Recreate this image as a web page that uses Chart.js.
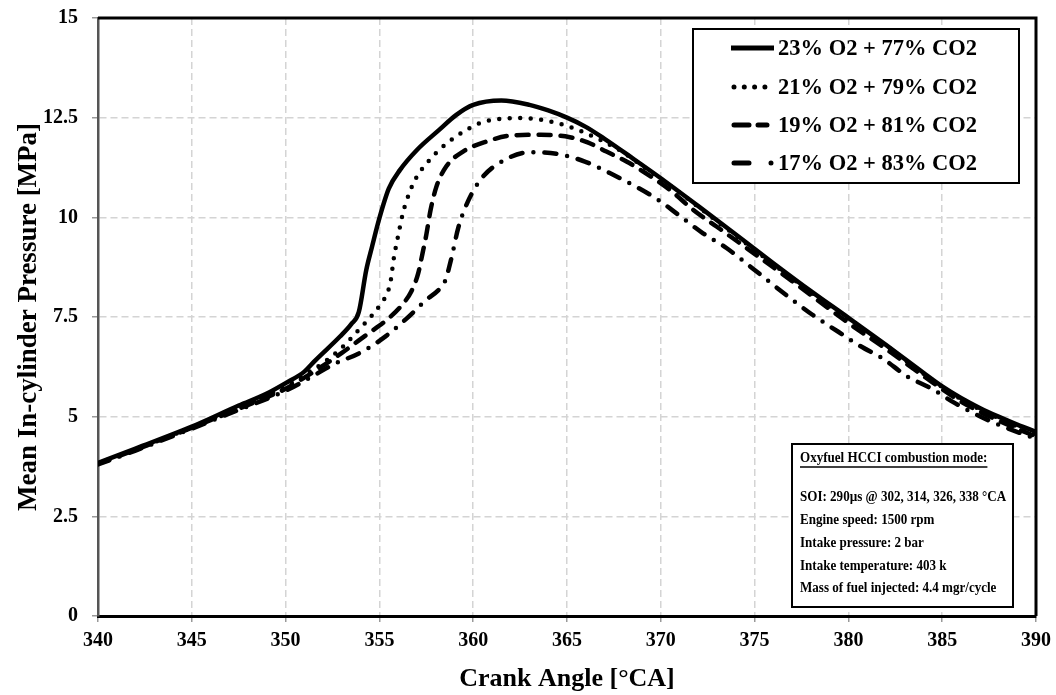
<!DOCTYPE html>
<html>
<head>
<meta charset="utf-8">
<script src="https://cdn.jsdelivr.net/npm/chart.js@4.4.1/dist/chart.umd.min.js"></script>
<style>
  html, body { margin: 0; padding: 0; background: #fff; }
  #wrap { width: 1056px; height: 695px; position: relative; }
</style>
</head>
<body>
<div id="wrap"><canvas id="chart" width="1056" height="695"></canvas></div>
<script>
// crank angle [°CA] and mean in-cylinder pressure [MPa]
const angle23 = [340, 342, 345, 347.5, 349, 350, 351, 351.6, 352.9, 353.5, 353.9, 354.3, 354.6, 355.0, 355.5, 356.1, 357.0, 358.2, 359.1, 360.0, 361.5, 363, 364, 365, 366, 367, 368.5, 370, 372, 374, 376, 378, 380, 382, 384, 385, 386, 387, 388, 389, 390];
const pres23  = [3.84, 4.2, 4.75, 5.28, 5.58, 5.84, 6.13, 6.42, 7.01, 7.32, 7.62, 8.68, 9.25, 9.98, 10.72, 11.19, 11.69, 12.2, 12.57, 12.82, 12.93, 12.82, 12.68, 12.5, 12.27, 11.97, 11.48, 10.98, 10.28, 9.57, 8.85, 8.15, 7.48, 6.8, 6.1, 5.76, 5.47, 5.22, 5.0, 4.8, 4.62];

const angle21 = [340, 342, 345, 347.5, 350, 351, 352.1, 353.06, 353.9, 354.75, 355.1, 355.42, 355.6, 355.76, 355.99, 356.25, 356.45, 356.9, 357.6, 358.4, 359.45, 360.5, 361.8, 362.6, 363.6, 364.8, 366, 367.6, 369.2, 371, 373, 375, 377, 380, 382, 384, 386, 388, 390];
const pres21  = [3.83, 4.18, 4.73, 5.24, 5.76, 6.05, 6.38, 6.76, 7.18, 7.62, 7.85, 8.1, 8.4, 8.95, 9.52, 10.1, 10.42, 10.94, 11.4, 11.78, 12.14, 12.39, 12.48, 12.49, 12.45, 12.32, 12.11, 11.74, 11.23, 10.62, 9.9, 9.18, 8.47, 7.44, 6.78, 6.08, 5.44, 4.96, 4.55];

const angle19 = [340, 342, 345, 347.5, 350, 351, 352, 353, 354.3, 355.4, 356.2, 356.7, 357.06, 357.3, 357.5, 357.73, 358.04, 358.57, 359.46, 360.7, 362, 363.6, 365.15, 366.1, 367.1, 368.17, 369.06, 370.48, 371.72, 372.97, 374.57, 377, 380, 382, 384, 386, 388, 390];
const pres19  = [3.82, 4.17, 4.72, 5.2, 5.7, 5.98, 6.28, 6.6, 7.05, 7.43, 7.8, 8.14, 8.58, 9.1, 9.56, 10.19, 10.77, 11.28, 11.65, 11.9, 12.05, 12.07, 12.01, 11.88, 11.65, 11.4, 11.15, 10.69, 10.19, 9.77, 9.23, 8.4, 7.35, 6.7, 6.02, 5.38, 4.9, 4.5];

const angle17 = [340, 342, 345, 347.5, 350, 351.5, 352.5, 354, 355.2, 356.4, 357.5, 358.2, 358.5, 358.85, 359.2, 359.72, 360.45, 361.6, 363, 364.5, 365.95, 367.28, 368.6, 369.86, 371, 372.25, 373.5, 375, 376.9, 378.1, 379.46, 380.6, 381.86, 383.1, 384.44, 385.68, 387.5, 390];
const pres17  = [3.8, 4.15, 4.7, 5.17, 5.65, 6.03, 6.3, 6.61, 6.97, 7.44, 7.93, 8.2, 8.4, 9.0, 9.73, 10.4, 10.98, 11.42, 11.63, 11.59, 11.4, 11.11, 10.79, 10.44, 10.04, 9.6, 9.23, 8.68, 7.97, 7.55, 7.13, 6.78, 6.45, 6.02, 5.7, 5.34, 4.9, 4.44];

const seriesNames = ["23% O2 + 77% CO2", "21% O2 + 79% CO2", "19% O2 + 81% CO2", "17% O2 + 83% CO2"];
const dashes = [[], [0, 10.5], [12, 10], [12, 11, 0, 11]];

const xTicks = [340, 345, 350, 355, 360, 365, 370, 375, 380, 385, 390];
const yTicks = [0, 2.5, 5, 7.5, 10, 12.5, 15];

const infoTitle = "Oxyfuel HCCI combustion mode:";
const infoLines = [
  "SOI: 290\u00b5s @ 302, 314, 326, 338 \u00b0CA",
  "Engine speed: 1500 rpm",
  "Intake pressure: 2 bar",
  "Intake temperature: 403 k",
  "Mass of fuel injected: 4.4 mgr/cycle"
];

const FONT = "'Liberation Serif', 'Times New Roman', serif";

function pts(xs, ys) { return xs.map((x, i) => ({ x, y: ys[i] })); }

const allData = [pts(angle23, pres23), pts(angle21, pres21), pts(angle19, pres19), pts(angle17, pres17)];

const datasets = allData.map((d, i) => ({
  label: seriesNames[i],
  data: d,
  borderColor: "#000",
  borderWidth: 4.5,
  borderDash: dashes[i],
  borderCapStyle: i === 0 ? "butt" : "round",
  borderJoinStyle: "round",
  pointRadius: 0,
  fill: false,
  cubicInterpolationMode: "monotone"
}));

// frame (top/right), legend box and info box
const boxesPlugin = {
  id: "boxes",
  afterDraw(chart) {
    const { ctx, chartArea: a } = chart;
    ctx.save();
    ctx.strokeStyle = "#000";
    ctx.lineWidth = 3;
    ctx.beginPath();
    ctx.moveTo(a.left, a.top);
    ctx.lineTo(a.right, a.top);
    ctx.lineTo(a.right, a.bottom);
    ctx.stroke();

    // legend
    ctx.fillStyle = "#fff";
    ctx.fillRect(693, 29, 326, 154);
    ctx.lineWidth = 2;
    ctx.strokeRect(693, 29, 326, 154);
    const rowY = [48, 87, 125, 163];
    const legDash = [[], [0, 10.3], [15, 9], [15, 22, 0, 100]];
    const legEnd = [774, 774, 767, 775];
    ctx.font = "bold 22.5px " + FONT;
    ctx.textBaseline = "middle";
    ctx.textAlign = "left";
    seriesNames.forEach((name, i) => {
      const y = rowY[i];
      ctx.save();
      ctx.lineWidth = 5;
      ctx.lineCap = i === 0 ? "butt" : "round";
      ctx.setLineDash(legDash[i]);
      ctx.beginPath();
      ctx.moveTo(i === 0 ? 731 : 734, y);
      ctx.lineTo(legEnd[i], y);
      ctx.stroke();
      ctx.restore();
      ctx.fillStyle = "#000";
      ctx.fillText(name, 778, y + 1);
    });

    // info box
    ctx.fillStyle = "#fff";
    ctx.fillRect(792, 444, 221, 163);
    ctx.lineWidth = 2;
    ctx.strokeStyle = "#000";
    ctx.strokeRect(792, 444, 221, 163);
    ctx.fillStyle = "#000";
    ctx.font = "bold 14.5px " + FONT;
    ctx.save();
    ctx.translate(800, 0);
    ctx.scale(0.9, 1);
    ctx.fillText(infoTitle, 0, 458);
    const w = ctx.measureText(infoTitle).width;
    ctx.lineWidth = 1.3;
    ctx.beginPath();
    ctx.moveTo(0, 467);
    ctx.lineTo(w, 467);
    ctx.stroke();
    const lineY = [497, 520, 543, 566, 588];
    infoLines.forEach((t, i) => ctx.fillText(t, 0, lineY[i]));
    ctx.restore();
    ctx.restore();
  }
};

new Chart(document.getElementById("chart"), {
  type: "line",
  data: { datasets },
  options: {
    responsive: false,
    animation: false,
    devicePixelRatio: 1,
    layout: { padding: { top: 18, right: 20, left: 0, bottom: 0 } },
    plugins: { legend: { display: false }, tooltip: { enabled: false } },
    scales: {
      x: {
        type: "linear",
        min: 340,
        max: 390,
        afterFit(s) { s.height = 79; s.paddingLeft = 0; s.paddingRight = 0; },
        afterBuildTicks(s) { s.ticks = xTicks.map(v => ({ value: v })); },
        ticks: { color: "#000", font: { family: FONT, size: 20, weight: "bold" }, padding: 7, maxRotation: 0 },
        grid: { color: "#d4d4d4", lineWidth: 1.5, tickColor: "#999", tickLength: 6 },
        border: { color: "#000", width: 3, dash: [7, 4] },
        title: { display: true, text: "Crank Angle [\u00b0CA]", color: "#000", font: { family: FONT, size: 26, weight: "bold" }, padding: { top: 0, bottom: 0 } }
      },
      y: {
        min: 0,
        max: 15,
        afterFit(s) { s.width = 98; s.paddingTop = 0; s.paddingBottom = 0; },
        afterBuildTicks(s) { s.ticks = yTicks.map(v => ({ value: v })); },
        ticks: { color: "#000", font: { family: FONT, size: 20, weight: "bold" }, padding: 14 },
        grid: { color: "#d4d4d4", lineWidth: 1.5, tickColor: "#999", tickLength: 6 },
        border: { color: "#555", width: 2.5, dash: [7, 4] },
        title: { display: true, text: "Mean In-cylinder Pressure [MPa]", color: "#000", font: { family: FONT, size: 27, weight: "bold" }, padding: { top: 13, bottom: 0 } }
      }
    }
  },
  plugins: [boxesPlugin]
});
</script>
</body>
</html>
